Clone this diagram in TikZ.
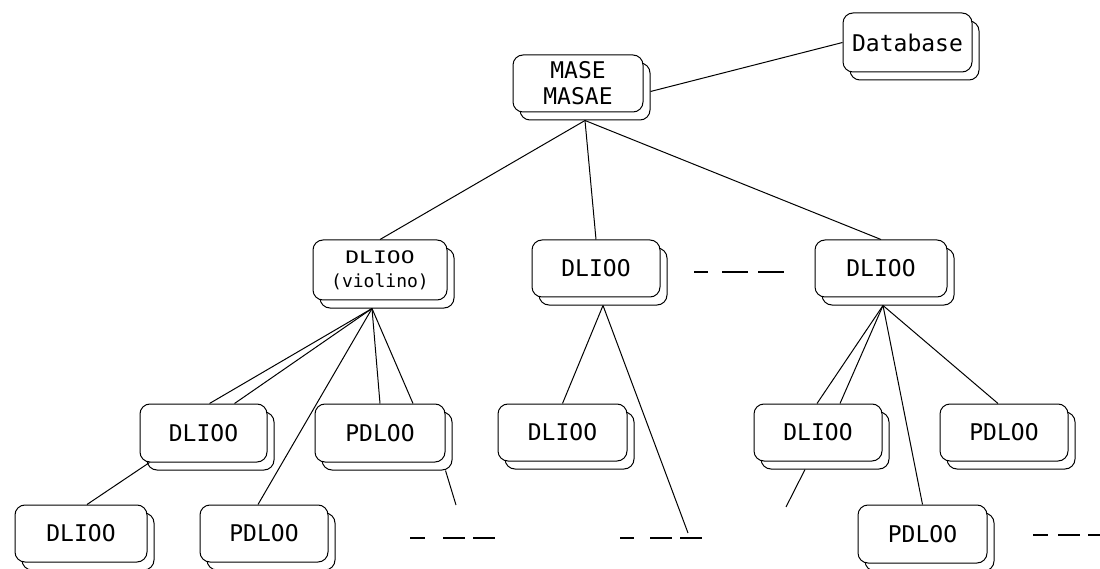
\documentclass[tikz,border=0pt]{standalone}
\usepackage{fontspec}
\newfontfamily\boxfont{DejaVu Sans Mono}
\begin{document}
\begin{tikzpicture}[x=1pt,y=-1pt,
  box/.style={draw,line width=1pt,fill=white,rounded corners=10pt,minimum height=57pt,inner sep=0pt,
    font=\boxfont\fontsize{23}{26}\selectfont,align=center},
  link/.style={line width=1pt},
  gap/.style={line width=1.2pt}]
\useasboundingbox[fill=white] (0,0) rectangle (1100,569);
\newcommand\dbox[6]{% name, x, y, width, height, text
  \node[box,minimum width=#4,minimum height=#5] (#1-s) at (#2+7,#3+8) {};
  \node[box,minimum width=#4,minimum height=#5] (#1) at (#2,#3) {#6};}
% level 1
\dbox{mase}{578}{83.5}{130pt}{57pt}{MASE\\MASAE}
\dbox{db}{907.5}{42.5}{129pt}{59pt}{Database}
% level 2
\dbox{v}{380}{270}{134pt}{60pt}{\scalebox{1}[0.75]{DLIOO}\\[-2pt]{\fontsize{18}{20}\selectfont(violino)}}
\dbox{m2}{596}{268.5}{128pt}{57pt}{DLIOO}
\dbox{r2}{881}{268.5}{132pt}{57pt}{DLIOO}
% level 3
\dbox{a3}{203.5}{433}{127pt}{58pt}{DLIOO}
\dbox{b3}{380}{433}{130pt}{58pt}{PDLOO}
\dbox{c3}{562.5}{432.5}{129pt}{57pt}{DLIOO}
\dbox{d3}{818}{432.5}{128pt}{57pt}{DLIOO}
\dbox{e3}{1004}{432.5}{128pt}{57pt}{PDLOO}
% level 4
\dbox{a4}{81}{533.5}{132pt}{57pt}{DLIOO}
\dbox{b4}{264}{533.5}{128pt}{57pt}{PDLOO}
\dbox{f4}{922.5}{534}{129pt}{58pt}{PDLOO}
% free ends
\coordinate (vb) at ([xshift=-15pt]v-s.south);
\coordinate (rb) at ([xshift=-5pt]r2-s.south);
\coordinate (endb) at (456,505);
\coordinate (endm) at (688,533);
\coordinate (endd) at (786,507);
% connectors
\draw[link] (mase-s.east) -- (db.west);
\draw[link] (mase-s.south) -- (v.north);
\draw[link] (mase-s.south) -- (m2.north);
\draw[link] (mase-s.south) -- (r2.north);
\draw[link] (vb) -- ([xshift=6pt]a3.north);
\draw[link] (vb) -- ([xshift=31pt]a3.north);
\draw[link] (vb) -- ([xshift=-6pt]b4.north);
\draw[link] (vb) -- (b3.north);
\draw[link] (vb) -- ([xshift=33pt]b3.north);
\draw[link] ([xshift=10pt]a3.south west) -- ([xshift=6pt]a4.north);
\draw[link] ([xshift=-7pt]b3-s.south east) -- (endb);
\draw[link] (m2-s.south) -- (c3.north);
\draw[link] (m2-s.south) -- (endm);
\draw[link] (rb) -- ([xshift=-1pt]d3.north);
\draw[link] (rb) -- ([xshift=22pt]d3.north);
\draw[link] (rb) -- (f4.north);
\draw[link] (rb) -- ([xshift=-6pt]e3.north);
\draw[link] ([xshift=-20pt]d3-s.south) -- (endd);
% dash marks
\draw[gap] (694,272) -- (708,272) (722,272) -- (748,272) (758,272) -- (784,272);
\draw[gap] (410,538) -- (425,538) (443,538) -- (465,538) (473,538) -- (495,538);
\draw[gap] (620,538) -- (634,538) (650,538) -- (672,538) (680,538) -- (702,538);
\draw[gap] (1033,535) -- (1048,535) (1058,535) -- (1080,535) (1088,535) -- (1100,535);
\end{tikzpicture}
\end{document}
